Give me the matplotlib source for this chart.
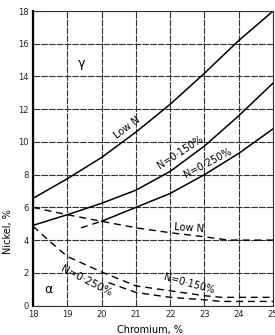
import numpy as np
import matplotlib.pyplot as plt

# Lignes limites du diagramme Cr-Ni
cr = [18, 19, 20, 21, 22, 23, 24, 25]
ni_lowN = [6.55, 7.75, 9.05, 10.6, 12.3, 14.2, 16.2, 18.0]
ni_150 = [4.9, 5.55, 6.25, 7.05, 8.2, 9.75, 11.6, 13.6]

cr_250 = [19.4, 20, 21, 22, 23, 24, 25]
ni_250 = [4.75, 5.15, 6.0, 6.85, 8.0, 9.3, 10.8]

# limites en pointilles
cr_lowN_d = [18, 19, 20, 21, 22, 23, 23.7, 24, 25]
ni_lowN_d = [6.0, 5.55, 5.15, 4.75, 4.45, 4.2, 4.0, 4.0, 4.0]

cr_150_d = [18, 18.5, 19, 20, 21, 22, 23, 23.5, 24, 25]
ni_150_d = [4.85, 3.9, 3.0, 2.05, 1.2, 0.9, 0.6, 0.5, 0.5, 0.5]

cr_250_d = [20.2, 21, 22, 23, 23.5, 24, 25]
ni_250_d = [1.4, 0.8, 0.5, 0.35, 0.25, 0.25, 0.25]

xticks = [18, 19, 20, 21, 22, 23, 24, 25]
yticks = [0, 2, 4, 6, 8, 10, 12, 14, 16, 18]

fig = plt.figure(figsize=(2.75, 3.35), dpi=100)
ax = fig.add_axes([0.12, 0.088, 0.873, 0.879])

ax.set_xlim(18, 25)
ax.set_ylim(0, 18)
ax.set_xticks(xticks)
ax.set_yticks(yticks)
ax.tick_params(labelsize=6, length=0, pad=3, colors='#222222')
ax.grid(True, color='#333333', lw=0.8, ls=(0, (6, 1)))
ax.set_axisbelow(True)
for s in ax.spines.values():
    s.set_color('#333333')
    s.set_linewidth(0.8)
ax.spines['left'].set_linewidth(1.6)
ax.spines['left'].set_color('black')

dash = (0, (5, 3.5))
k = 'black'
ax.plot(cr, ni_lowN, color=k, lw=1.1)
ax.plot(cr, ni_150, color=k, lw=1.1)
ax.plot(cr_250[:2], ni_250[:2], color=k, lw=1.0, ls=dash)
ax.plot(cr_250[1:], ni_250[1:], color=k, lw=1.1)

ax.plot(cr_lowN_d, ni_lowN_d, color=k, lw=1.0, ls=dash)
ax.plot(cr_150_d, ni_150_d, color=k, lw=1.0, ls=dash)
ax.plot(cr_250_d, ni_250_d, color=k, lw=1.0, ls=dash)

# textes
ax.text(19.42, 14.8, 'γ', fontsize=9, ha='center', va='center')
ax.text(18.45, 1.0, 'α', fontsize=9, ha='center', va='center')
ax.text(20.75, 10.85, 'Low N', fontsize=7, rotation=37, ha='center', va='center')
ax.text(22.3, 9.35, 'N=0·150%', fontsize=7, rotation=33, ha='center', va='center')
ax.text(23.1, 8.7, 'N=0·250%', fontsize=7, rotation=28, ha='center', va='center')
ax.text(22.55, 4.75, 'Low N', fontsize=7, rotation=-4, ha='center', va='center')
ax.text(22.55, 1.35, 'N=0·150%', fontsize=7, rotation=-15, ha='center', va='center')
ax.text(19.55, 1.5, 'N=0·250%', fontsize=7.5, rotation=-27, ha='center', va='center')

fig.text(8 / 275, 1 - 232 / 335, 'Nickel, %', fontsize=7, rotation=90,
         ha='center', va='center')
fig.text(150 / 275, 1 - 330 / 335, 'Chromium, %', fontsize=7,
         ha='center', va='center')

plt.savefig('out.png', dpi=100)
